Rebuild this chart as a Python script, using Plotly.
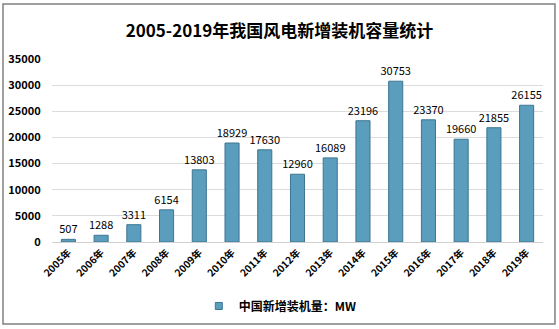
import plotly.graph_objects as go

years = ["2005年", "2006年", "2007年", "2008年", "2009年", "2010年", "2011年", "2012年",
         "2013年", "2014年", "2015年", "2016年", "2017年", "2018年", "2019年"]
capacity = [507, 1288, 3311, 6154, 13803, 18929, 17630, 12960,
            16089, 23196, 30753, 23370, 19660, 21855, 26155]
y_ticks = [0, 5000, 10000, 15000, 20000, 25000, 30000, 35000]
series_name = "中国新增装机量：MW"

FONT = "Noto Sans CJK SC"
BAR_FILL = "#5b9dbd"
BAR_EDGE = "#3d7592"

fig = go.Figure()
fig.add_trace(go.Bar(
    x=years,
    y=capacity,
    name=series_name,
    showlegend=False,
    marker=dict(color=BAR_FILL, line=dict(color=BAR_EDGE, width=1)),
    text=[str(v) for v in capacity],
    textposition="outside",
    constraintext="none",
    textfont=dict(family=FONT, size=11, color="#000000"),
    cliponaxis=False,
    width=0.43,
))
# legend entry with a small square swatch
fig.add_trace(go.Scatter(
    x=[None], y=[None], mode="markers", name=series_name,
    marker=dict(symbol="square", size=7, color=BAR_FILL,
                line=dict(color=BAR_EDGE, width=1)),
))

fig.update_layout(
    width=559,
    height=329,
    margin=dict(l=52, r=16, t=59, b=87),
    paper_bgcolor="white",
    plot_bgcolor="white",
    font=dict(family=FONT, color="#000000"),
    title=dict(
        text="<b>2005-2019年我国风电新增装机容量统计</b>",
        x=0.5, xanchor="center", y=0.905, yanchor="middle",
        font=dict(family=FONT, size=17, color="#000000"),
    ),
    showlegend=True,
    legend=dict(
        orientation="h", x=0.465, xanchor="center",
        yref="container", y=0.07, yanchor="middle",
        font=dict(family=FONT, size=12, color="#000000", weight="bold"),
        itemwidth=30,
    ),
    bargap=0.57,
    xaxis=dict(
        tickangle=-45,
        tickfont=dict(family=FONT, size=10, color="#000000", weight="bold"),
        showline=True, linecolor="#d0d0d0", linewidth=1,
        ticks="", automargin=False,
    ),
    yaxis=dict(
        range=[0, 35000],
        tickvals=y_ticks,
        ticktext=[str(t) for t in y_ticks],
        tickfont=dict(family=FONT, size=11, color="#000000", weight="bold"),
        showgrid=True, gridcolor="#dcdcdc", gridwidth=1,
        zeroline=False, automargin=False,
        ticklen=8, ticks="outside", tickcolor="white",
    ),
    shapes=[dict(
        type="rect", xref="paper", yref="paper",
        x0=-0.0998, x1=1.0244, y0=-0.448, y1=1.3005,
        line=dict(color="#808080", width=1.5), fillcolor="rgba(0,0,0,0)",
        layer="below",
    )],
)

fig.write_html("out.html")
